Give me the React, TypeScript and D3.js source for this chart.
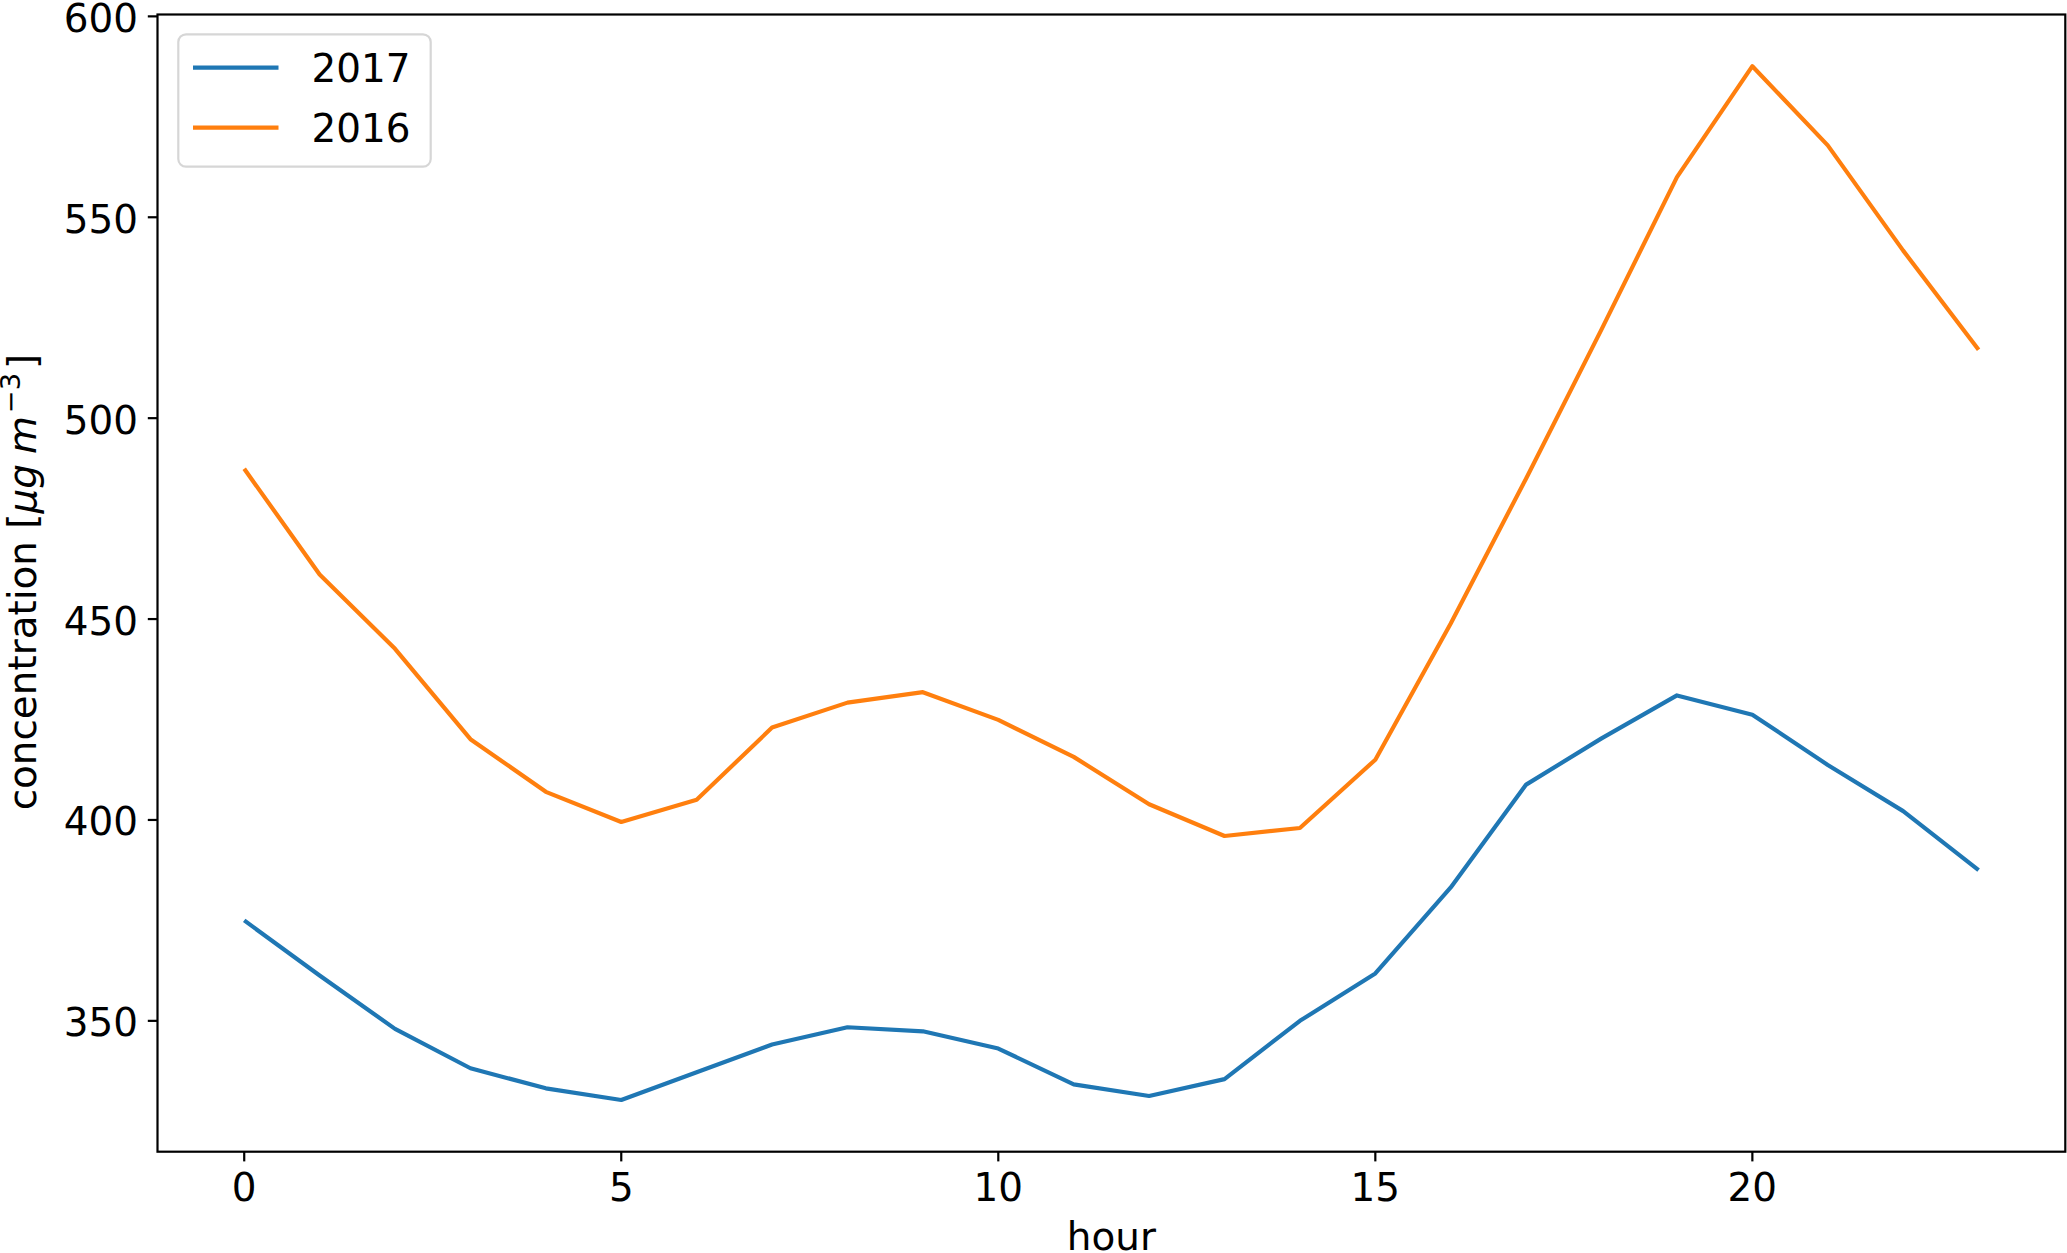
import React from "react";
import * as d3 from "d3";

const hours = d3.range(0, 24);
const series2017 = [375.0, 361.3, 348.0, 338.2, 333.2, 330.3, 337.2, 344.1, 348.4, 347.4, 343.1, 334.2, 331.3, 335.5, 350.0, 361.8, 383.2, 408.8, 420.3, 431.0, 426.2, 413.7, 402.2, 387.5];
const series2016 = [487.4, 461.1, 442.6, 420.1, 407.0, 399.5, 405.0, 423.0, 429.2, 431.8, 424.9, 415.7, 403.9, 396.0, 398.0, 415.0, 448.9, 485.0, 522.1, 560.0, 587.6, 567.9, 541.7, 517.0];
const seriesNames = ["2017", "2016"];
const seriesColors = ["#1f77b4", "#ff7f0e"];
const xTicks = [0, 5, 10, 15, 20];
const yTicks = [350, 400, 450, 500, 550, 600];

const W = 2067;
const H = 1253;
const L = 157.5;
const R = 2065.3;
const T = 14.5;
const B = 1151.7;
const FS = 38.9;
const FONT = "DejaVu Sans";

export default function App() {
  const all = [...series2017, ...series2016];
  const ymin = d3.min(all)!;
  const ymax = d3.max(all)!;
  const yPad = (ymax - ymin) * 0.05;
  const xPad = 23 * 0.05;
  const x = d3.scaleLinear().domain([0 - xPad, 23 + xPad]).range([L, R]);
  const y = d3.scaleLinear().domain([ymin - yPad, ymax + yPad]).range([B, T]);
  const line = d3
    .line<number>()
    .x((_, i) => x(hours[i]))
    .y((d) => y(d));
  const data = [series2017, series2016];
  const tickLen = 9.7;
  const sw = 2.2;

  return (
    <svg
      width={W}
      height={H}
      style={{ position: "absolute", left: 0, top: 0, background: "#fff" }}
      fontFamily={FONT}
    >
      <rect x={0} y={0} width={W} height={H} fill="#fff" />
      <g>
        {data.map((s, i) => (
          <path
            key={i}
            d={line(s) || ""}
            fill="none"
            stroke={seriesColors[i]}
            strokeWidth={4.17}
            strokeLinejoin="round"
          />
        ))}
      </g>
      {/* spines */}
      <rect x={L} y={T} width={R - L} height={B - T} fill="none" stroke="#000" strokeWidth={sw} />
      {/* x ticks */}
      {xTicks.map((t) => (
        <g key={"x" + t}>
          <line x1={x(t)} x2={x(t)} y1={B} y2={B + tickLen} stroke="#000" strokeWidth={sw} />
          <text x={x(t)} y={1200.5} fontSize={FS} textAnchor="middle" fill="#000">
            {t}
          </text>
        </g>
      ))}
      {/* y ticks */}
      {yTicks.map((t) => (
        <g key={"y" + t}>
          <line x1={L - tickLen} x2={L} y1={y(t)} y2={y(t)} stroke="#000" strokeWidth={sw} />
          <text x={138} y={y(t) + 15.5} fontSize={FS} textAnchor="end" fill="#000">
            {t}
          </text>
        </g>
      ))}
      {/* x label */}
      <text x={(L + R) / 2} y={1250} fontSize={FS} textAnchor="middle" fill="#000">
        hour
      </text>
      {/* y label */}
      <text
        transform={`translate(36, ${(T + B) / 2 - 1}) rotate(-90)`}
        fontSize={FS}
        textAnchor="middle"
        fill="#000"
      >
        <tspan>concentration [</tspan>
        <tspan fontStyle="italic">μg</tspan>
        <tspan fontStyle="italic" dx={10}>m</tspan>
        <tspan fontSize={FS * 0.7} dy={-16} dx={3}>−3</tspan>
        <tspan dy={16} dx={4}>]</tspan>
      </text>
      {/* legend */}
      <rect
        x={178.3}
        y={34.3}
        width={252.4}
        height={132.4}
        rx={7.8}
        ry={7.8}
        fill="#fff"
        fillOpacity={0.8}
        stroke="#d6d6d6"
        strokeWidth={2.2}
      />
      {seriesNames.map((n, i) => {
        const cy = 67.7 + i * 60;
        return (
          <g key={n}>
            <line x1={193} x2={278.5} y1={cy} y2={cy} stroke={seriesColors[i]} strokeWidth={4.17} />
            <text x={311.5} y={cy + 14.2} fontSize={FS} fill="#000">
              {n}
            </text>
          </g>
        );
      })}
    </svg>
  );
}
